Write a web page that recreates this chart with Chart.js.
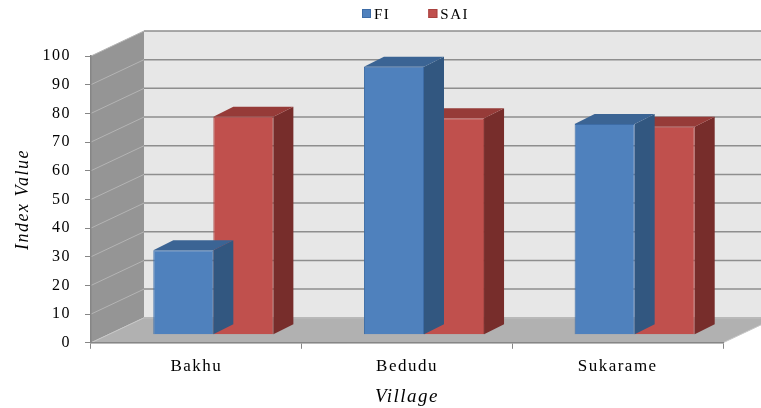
<!DOCTYPE html>
<html lang="en">
<head>
  <meta charset="UTF-8" />
  <title>Index Value by Village</title>
  <script src="https://cdn.jsdelivr.net/npm/chart.js"></script>
  <style>
    html, body { margin: 0; padding: 0; background: #fff; }
  </style>
</head>
<body>
  <canvas id="chart" width="761" height="408"></canvas>

  <script>
    // data
    const villages = ['Bakhu', 'Bedudu', 'Sukarame'];
    const fiValues = [29.5, 93.5, 73.5];
    const saiValues = [76, 75.5, 72.5];
    const seriesNames = ['FI', 'SAI'];
    const yMin = 0, yMax = 100, yStep = 10;

    // fake 3D depth (pixels)
    const WALL_DX = 53, WALL_DY = 25;   // depth of the walls / floor
    const BAR_OX = 17, BAR_OY = 8;      // bars sit a bit behind the axis plane
    const BAR_DX = 20, BAR_DY = 10;     // bar depth

    const colors = {
      FI:  { front: '#4f81bd', top: '#3b6494', side: '#325780', edge: '#3d6ca6' },
      SAI: { front: '#c0504d', top: '#963b38', side: '#772d2b', edge: '#a9423f' }
    };

    function poly(ctx, pts, fill, stroke) {
      ctx.beginPath();
      ctx.moveTo(pts[0][0], pts[0][1]);
      for (let i = 1; i < pts.length; i++) ctx.lineTo(pts[i][0], pts[i][1]);
      ctx.closePath();
      ctx.fillStyle = fill;
      ctx.fill();
      if (stroke) { ctx.strokeStyle = stroke; ctx.lineWidth = 1; ctx.stroke(); }
    }

    const threeD = {
      id: 'threeD',
      beforeLayout(chart) {
        chart.ctx.letterSpacing = '1.5px';
      },
      beforeDraw(chart) {
        const { ctx, chartArea: a, scales: { y } } = chart;
        ctx.save();
        // back wall
        ctx.fillStyle = '#e7e7e7';
        ctx.fillRect(a.left + WALL_DX, a.top - WALL_DY, chart.width, a.bottom - a.top);
        ctx.strokeStyle = '#8e8e8e';
        ctx.lineWidth = 1.5;
        y.ticks.forEach(t => {
          const py = y.getPixelForValue(t.value) - WALL_DY;
          ctx.beginPath();
          ctx.moveTo(a.left + WALL_DX, py);
          ctx.lineTo(chart.width, py);
          ctx.stroke();
        });
        // side wall
        poly(ctx, [[a.left, a.top], [a.left + WALL_DX, a.top - WALL_DY],
                   [a.left + WALL_DX, a.bottom - WALL_DY], [a.left, a.bottom]], '#959595');
        ctx.strokeStyle = '#b4b4b4';
        ctx.lineWidth = 1;
        y.ticks.forEach(t => {
          const py = y.getPixelForValue(t.value);
          ctx.beginPath();
          ctx.moveTo(a.left, py);
          ctx.lineTo(a.left + WALL_DX, py - WALL_DY);
          ctx.stroke();
        });
        // floor
        poly(ctx, [[a.left, a.bottom], [a.right, a.bottom],
                   [a.right + WALL_DX, a.bottom - WALL_DY], [a.left + WALL_DX, a.bottom - WALL_DY]],
             '#b1b1b1', '#c8c8c8');
        ctx.restore();
      },
      beforeDatasetDraw(chart, args) {
        const ctx = chart.ctx;
        const c = colors[chart.data.datasets[args.index].label];
        ctx.save();
        ctx.translate(BAR_OX, -BAR_OY);
        args.meta.data.forEach(bar => {
          const { x, y, base, width } = bar.getProps(['x', 'y', 'base', 'width'], true);
          const l = x - width / 2, r = x + width / 2;
          poly(ctx, [[r, y], [r + BAR_DX, y - BAR_DY], [r + BAR_DX, base - BAR_DY], [r, base]], c.side);
          poly(ctx, [[l, y], [l + BAR_DX, y - BAR_DY], [r + BAR_DX, y - BAR_DY], [r, y]], c.top);
        });
      },
      afterDatasetDraw(chart) {
        chart.ctx.restore();
      },
      afterDraw(chart) {
        // legend
        const ctx = chart.ctx;
        ctx.save();
        ctx.font = "15px 'Liberation Serif', serif";
        ctx.textBaseline = 'middle';
        let x = 362;
        const cy = 14;
        chart.data.datasets.forEach(ds => {
          const c = colors[ds.label];
          ctx.fillStyle = c.front;
          ctx.fillRect(x, cy - 5, 9, 9);
          ctx.strokeStyle = c.edge;
          ctx.lineWidth = 1;
          ctx.strokeRect(x + 0.5, cy - 4.5, 8, 8);
          ctx.fillStyle = '#000';
          ctx.fillText(ds.label, x + 12, cy + 1);
          x += 12 + ctx.measureText(ds.label).width + 38;
        });
        ctx.restore();
      }
    };

    const axisGrey = '#868686';

    Chart.defaults.font.family = "'Liberation Serif', 'Times New Roman', serif";
    Chart.defaults.color = '#000';

    new Chart(document.getElementById('chart'), {
      type: 'bar',
      data: {
        labels: villages,
        datasets: [
          {
            label: seriesNames[0],
            data: fiValues,
            backgroundColor: colors.FI.front,
            borderColor: colors.FI.edge,
            borderWidth: 1,
            clip: false
          },
          {
            label: seriesNames[1],
            data: saiValues,
            backgroundColor: colors.SAI.front,
            borderColor: colors.SAI.edge,
            borderWidth: 1,
            clip: false
          }
        ]
      },
      options: {
        responsive: false,
        animation: false,
        layout: { padding: { top: 56, right: 38, left: 4, bottom: 0 } },
        datasets: { bar: { categoryPercentage: 0.57, barPercentage: 1.0 } },
        plugins: {
          legend: { display: false },
          tooltip: { enabled: false }
        },
        scales: {
          x: {
            grid: { offset: true, drawOnChartArea: false, tickLength: 6, color: axisGrey },
            border: { color: axisGrey, width: 1.5 },
            ticks: { font: { size: 17 }, padding: 8 },
            title: {
              display: true,
              text: 'Village',
              font: { size: 19, style: 'italic' },
              padding: { top: 0, bottom: 0 }
            }
          },
          y: {
            min: yMin,
            max: yMax,
            afterFit: scale => { scale.width = 87; },
            grid: { drawOnChartArea: false, tickLength: 6, color: axisGrey },
            border: { color: axisGrey, width: 1.5 },
            ticks: { stepSize: yStep, font: { size: 16 }, padding: 14 },
            title: {
              display: true,
              text: 'Index Value',
              font: { size: 18, style: 'italic' },
              padding: { top: 8, bottom: 0 }
            }
          }
        }
      },
      plugins: [threeD]
    });
  </script>
</body>
</html>
